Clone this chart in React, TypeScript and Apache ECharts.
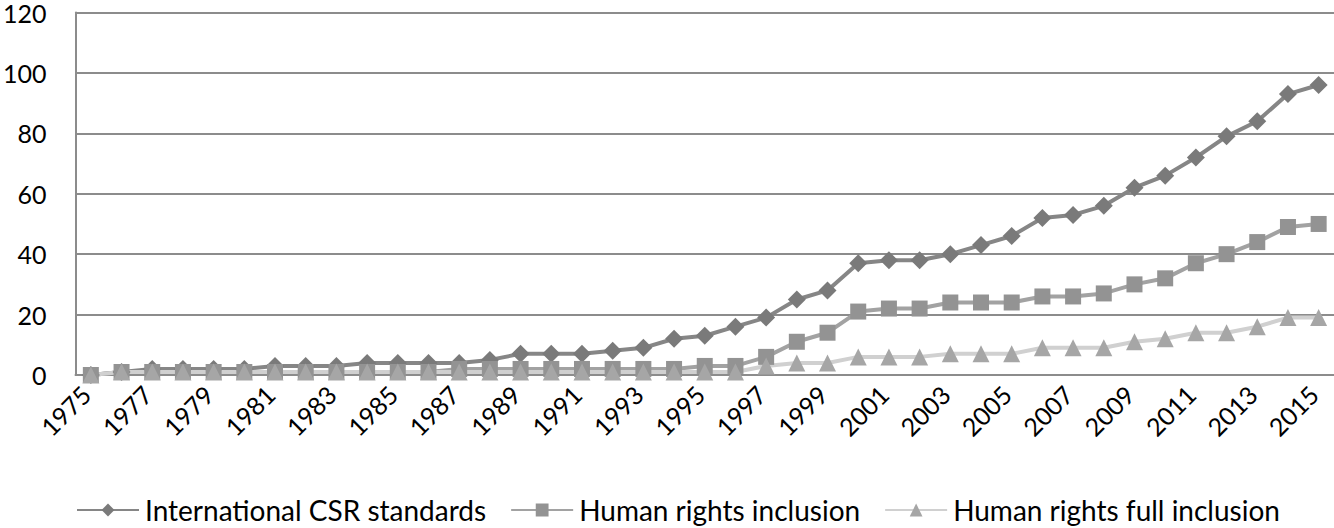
import React, { useEffect, useRef } from "react";
import * as echarts from "echarts";

const years: string[] = [];
for (let y = 1975; y <= 2015; y++) years.push(String(y));

const csrStandards = [0, 1, 2, 2, 2, 2, 3, 3, 3, 4, 4, 4, 4, 5, 7, 7, 7, 8, 9, 12, 13, 16, 19, 25, 28, 37, 38, 38, 40, 43, 46, 52, 53, 56, 62, 66, 72, 79, 84, 93, 96];
const hrInclusion = [0, 1, 1, 1, 1, 1, 1, 1, 1, 1, 1, 1, 2, 2, 2, 2, 2, 2, 2, 2, 3, 3, 6, 11, 14, 21, 22, 22, 24, 24, 24, 26, 26, 27, 30, 32, 37, 40, 44, 49, 50];
const hrFullInclusion = [0, 1, 1, 1, 1, 1, 1, 1, 1, 1, 1, 1, 1, 1, 1, 1, 1, 1, 1, 1, 1, 1, 3, 4, 4, 6, 6, 6, 7, 7, 7, 9, 9, 9, 11, 12, 14, 14, 16, 19, 19];
const seriesNames = ["International CSR standards", "Human rights inclusion", "Human rights full inclusion"];
const yTicks = { min: 0, max: 120, interval: 20 };

const FONT = "Lato";

export default function App() {
  const ref = useRef<HTMLDivElement>(null);
  useEffect(() => {
    document.body.style.margin = "0";
    if (!ref.current) return;
    const chart = echarts.init(ref.current, null, { renderer: "svg" });
    chart.setOption({
      animation: false,
      textStyle: { fontFamily: FONT },
      grid: { left: 73, right: 0, top: 11, bottom: 153, containLabel: false },
      legend: {
        top: 491,
        left: 71,
        itemWidth: 62,
        itemHeight: 16,
        itemGap: 24,
        textStyle: { fontSize: 28, color: "#000", fontFamily: FONT, padding: [0, 0, 0, 1] },
        data: seriesNames,
      },
      xAxis: {
        type: "category",
        data: years,
        boundaryGap: true,
        axisLine: { show: true, lineStyle: { color: "#8c8c8c", width: 2 } },
        axisTick: { show: false },
        axisLabel: {
          interval: 1,
          rotate: 45,
          fontSize: 25,
          color: "#000",
          fontFamily: FONT,
          margin: 10,
          padding: [0, 7, 0, 0],
        },
      },
      yAxis: {
        type: "value",
        min: yTicks.min,
        max: yTicks.max,
        interval: yTicks.interval,
        axisLine: { show: true, lineStyle: { color: "#8c8c8c", width: 2 } },
        axisTick: { show: false },
        splitLine: { show: true, lineStyle: { color: "#8c8c8c", width: 2 } },
        axisLabel: { fontSize: 25, color: "#000", fontFamily: FONT, margin: 29 },
      },
      series: [
        {
          name: seriesNames[0],
          type: "line",
          data: csrStandards,
          symbol: "diamond",
          symbolSize: 18,
          lineStyle: { color: "#868686", width: 4 },
          itemStyle: { color: "#7a7a7a" },
        },
        {
          name: seriesNames[1],
          type: "line",
          data: hrInclusion,
          symbol: "rect",
          symbolSize: 16,
          lineStyle: { color: "#a2a2a2", width: 4 },
          itemStyle: { color: "#939393" },
        },
        {
          name: seriesNames[2],
          type: "line",
          data: hrFullInclusion,
          symbol: "triangle",
          symbolSize: 17,
          lineStyle: { color: "#d0d0d0", width: 4 },
          itemStyle: { color: "#a6a6a6" },
        },
      ],
    });
    return () => chart.dispose();
  }, []);
  return <div ref={ref} style={{ width: 1334, height: 528 }} />;
}
